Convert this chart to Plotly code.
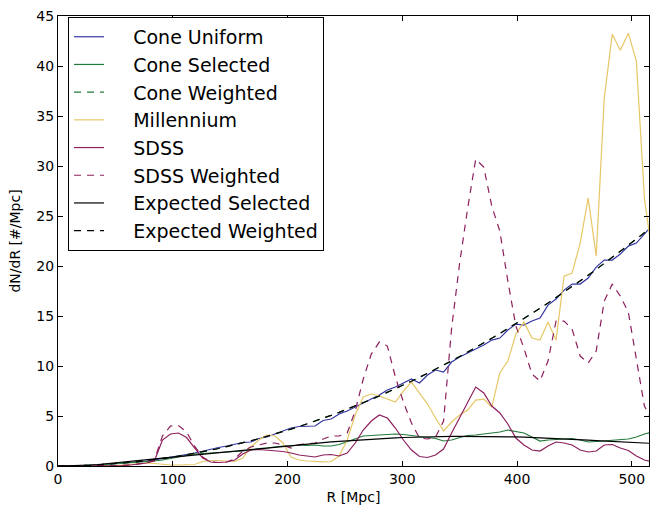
import plotly.graph_objects as go

R = [0, 7, 14, 21, 28, 35, 42, 49, 56, 63, 70, 77, 84, 91, 98, 105, 112, 119, 126, 133,
     140, 147, 154, 161, 168, 175, 182, 189, 196, 203, 210, 217, 224, 231, 238, 245, 252, 259,
     266, 273, 280, 287, 294, 301, 308, 315, 322, 329, 336, 343, 350, 357, 364, 371, 378, 385,
     392, 399, 406, 413, 420, 427, 434, 441, 448, 455, 462, 469, 476, 483, 490, 497, 504, 511, 518]

cone_uniform = [0, 0.004, 0.02, 0.04, 0.07, 0.11, 0.17, 0.24, 0.3, 0.37, 0.42, 0.5, 0.62, 0.74, 0.88,
                1.0, 1.15, 1.3, 1.5, 1.7, 1.85, 2.0, 2.2, 2.35, 2.4, 2.75, 2.9, 3.2, 3.45, 3.8,
                3.95, 3.95, 4.0, 4.55, 4.7, 5.2, 5.5, 5.9, 6.3, 6.7, 7.1, 7.6, 7.9, 8.3, 8.7,
                8.3, 9.1, 9.6, 9.4, 10.4, 10.9, 11.3, 11.7, 12.1, 12.6, 12.8, 13.6, 14.2, 14.1,
                14.5, 14.8, 16.1, 16.7, 17.6, 18.2, 18.2, 18.8, 19.9, 20.6, 20.6, 21.2, 22.0,
                22.3, 23.2, 24.1]

cone_selected = [0, 0.005, 0.02, 0.04, 0.07, 0.1, 0.15, 0.2, 0.25, 0.3, 0.38, 0.45, 0.5, 0.6, 0.75,
                 0.95, 1.1, 1.2, 1.25, 1.3, 1.35, 1.35, 1.4, 1.5, 1.6, 1.75, 1.8, 1.9, 2.0, 2.0,
                 2.1, 2.05, 2.1, 2.0, 2.0, 2.15, 2.45, 2.75, 3.0, 3.05, 3.1, 3.2, 3.2, 3.15, 3.05,
                 2.9, 2.8, 2.75, 2.5, 2.6, 2.85, 3.05, 3.1, 3.2, 3.3, 3.4, 3.6, 3.45, 3.3, 2.9,
                 2.5, 2.6, 2.65, 2.7, 2.75, 2.6, 2.4, 2.45, 2.5, 2.6, 2.65, 2.7, 2.9, 3.2, 3.4]

expected_weighted = [0, 0.004, 0.018, 0.039, 0.07, 0.11, 0.158, 0.215, 0.28, 0.355, 0.438, 0.53,
                     0.631, 0.74, 0.859, 0.986, 1.121, 1.266, 1.419, 1.581, 1.752, 1.932, 2.12,
                     2.317, 2.523, 2.738, 2.961, 3.193, 3.434, 3.684, 3.943, 4.21, 4.486, 4.77,
                     5.064, 5.366, 5.677, 5.997, 6.326, 6.663, 7.009, 7.364, 7.727, 8.1, 8.481,
                     8.871, 9.269, 9.677, 10.093, 10.518, 10.952, 11.394, 11.845, 12.305, 12.774,
                     13.251, 13.738, 14.233, 14.736, 15.249, 15.77, 16.3, 16.839, 17.387, 17.943,
                     18.508, 19.082, 19.665, 20.256, 20.856, 21.465, 22.083, 22.709, 23.344, 23.988]

cone_weighted = [0, 0.004, 0.018, 0.039, 0.07, 0.11, 0.158, 0.215, 0.28, 0.355, 0.438, 0.53,
                 0.631, 0.74, 0.859, 0.986, 1.121, 1.266, 1.419, 1.581, 1.752, 1.932, 2.12,
                 2.317, 2.523, 2.738, 2.961, 3.193, 3.434, 3.684, 3.943, 4.21, 4.486, 4.77,
                 5.064, 5.366, 5.677, 5.997, 6.326, 6.663, 7.009, 7.364, 7.727, 8.1, 8.481,
                 8.871, 9.269, 9.677, 10.093, 10.518, 10.952, 11.394, 11.845, 12.305, 12.774,
                 13.251, 13.738, 14.233, 14.736, 15.249, 15.77, 16.3, 16.839, 17.387, 17.943,
                 18.508, 19.082, 19.665, 20.256, 20.856, 21.465, 22.083, 22.709, 23.344, 23.988]

millennium = [0, 0, 0, 0, 0, 0, 0.02, 0.05, 0.1, 0.15, 0.2, 0.3, 0.25, 0.15, 0.1, 0.1, 0.12, 0.15,
              0.45, 0.55, 0.55, 0.5, 0.45, 0.8, 1.9, 2.6, 3.1, 3.0, 2.3, 0.9, 0.6, 0.5, 0.45,
              0.42, 0.45, 1.0, 2.6, 5.1, 6.9, 7.2, 7.0, 6.7, 6.4, 7.5, 8.4, 7.3, 6.2, 4.8, 3.5,
              4.4, 5.1, 5.6, 6.6, 6.7, 5.9, 9.3, 10.5, 13.2, 14.4, 12.8, 12.6, 14.4, 12.6, 19.0,
              19.3, 22.3, 26.8, 21.0, 36.8, 43.2, 41.6, 43.3, 40.5, 26.8, 21.0]

sdss = [0, 0, 0, 0, 0, 0, 0, 0, 0.05, 0.1, 0.2, 0.3, 0.5, 2.6, 3.2, 3.3, 2.85, 1.8, 0.8, 0.4,
        0.35, 0.4, 0.6, 1.2, 1.6, 1.65, 1.6, 1.55, 1.45, 1.3, 1.1, 1.0, 0.9, 1.1, 1.15, 1.0,
        1.3, 2.3, 3.6, 4.5, 5.1, 4.8, 3.8, 2.6, 1.6, 0.95, 0.85, 1.1, 1.7, 3.3, 4.8, 6.3,
        7.9, 7.3, 6.0, 5.3, 4.2, 2.8, 2.1, 1.6, 1.5, 2.0, 2.4, 2.3, 2.1, 1.6, 1.4, 1.5, 2.1,
        2.15, 1.8, 1.55, 1.0, 0.6, 0.4]

sdss_weighted = [0, 0, 0, 0, 0, 0, 0, 0, 0.05, 0.1, 0.2, 0.3, 0.6, 3.0, 4.0, 4.05, 3.4, 2.0, 0.9,
                 0.4, 0.35, 0.4, 0.7, 1.5, 1.9, 2.1, 2.3, 2.3, 2.1, 1.8, 2.15, 2.2, 2.3, 2.7, 3.0,
                 3.0, 3.3, 5.5, 8.7, 11.2, 12.4, 12.0, 8.9, 6.4, 4.3, 2.8, 2.7, 2.9, 4.5, 13.8,
                 20.3, 25.8, 30.7, 29.9, 26.0, 23.5, 18.5, 14.0, 11.8, 9.2, 8.5, 10.5, 14.5, 14.5,
                 13.7, 11.0, 10.3, 11.5, 16.5, 18.2, 17.0, 15.4, 10.5, 6.0, 4.5]

expected_selected = [0, 0.01, 0.03, 0.06, 0.1, 0.15, 0.22, 0.3, 0.4, 0.47, 0.55, 0.63, 0.7, 0.78,
                     0.86, 0.94, 1.02, 1.1, 1.2, 1.28, 1.36, 1.44, 1.52, 1.6, 1.68, 1.76, 1.84,
                     1.92, 2.0, 2.07, 2.14, 2.21, 2.28, 2.35, 2.41, 2.47, 2.53, 2.59, 2.65, 2.7,
                     2.74, 2.78, 2.82, 2.85, 2.88, 2.9, 2.92, 2.94, 2.95, 2.96, 2.97, 2.97, 2.97,
                     2.97, 2.96, 2.95, 2.93, 2.91, 2.89, 2.86, 2.83, 2.79, 2.75, 2.71, 2.67, 2.63,
                     2.58, 2.54, 2.5, 2.46, 2.42, 2.38, 2.34, 2.3, 2.26]

x_ticks = [0, 100, 200, 300, 400, 500]
y_ticks = [0, 5, 10, 15, 20, 25, 30, 35, 40, 45]

BLUE = "#3434a2"
GREEN = "#237a3c"
YELLOW = "#e6c766"
PURPLE = "#8c1f5c"
DASH = "7px,6px"
PAD = "\u00a0\u00a0\u00a0\u00a0"

series = [
    ("Cone Uniform", cone_uniform, BLUE, "solid"),
    ("Cone Selected", cone_selected, GREEN, "solid"),
    ("Cone Weighted", cone_weighted, GREEN, DASH),
    ("Millennium", millennium, YELLOW, "solid"),
    ("SDSS", sdss, PURPLE, "solid"),
    ("SDSS Weighted", sdss_weighted, PURPLE, DASH),
    ("Expected Selected", expected_selected, "black", "solid"),
    ("Expected Weighted", expected_weighted, "black", DASH),
]

fig = go.Figure()
for name, ys, col, dash in series:
    fig.add_trace(go.Scatter(x=R, y=ys, mode="lines", name=PAD + name,
                             line=dict(color=col, width=1.2, dash=dash)))

axis_common = dict(showline=True, linecolor="black", linewidth=1, mirror="ticks",
                   ticks="inside", ticklen=5, tickcolor="black", showgrid=False,
                   zeroline=False, tickfont=dict(family="DejaVu Sans", size=14, color="black"))

fig.update_layout(
    width=670, height=511,
    margin=dict(l=58, r=21, t=8, b=44),
    paper_bgcolor="white", plot_bgcolor="white",
    font=dict(family="DejaVu Sans", color="black"),
    xaxis=dict(range=[0, 515], tickvals=x_ticks, title=dict(text="R [Mpc]", font=dict(size=14), standoff=6),
               **axis_common),
    yaxis=dict(range=[0, 45.02], tickvals=y_ticks, title=dict(text="dN/dR [#/Mpc]", font=dict(size=14), standoff=12),
               **axis_common),
    legend=dict(x=0.017, y=0.998, xanchor="left", yanchor="top", bgcolor="white",
                bordercolor="black", borderwidth=1, font=dict(size=19, family="DejaVu Sans"),
                tracegroupgap=0, itemwidth=30),
    showlegend=True,
)

fig.write_html("out.html")
